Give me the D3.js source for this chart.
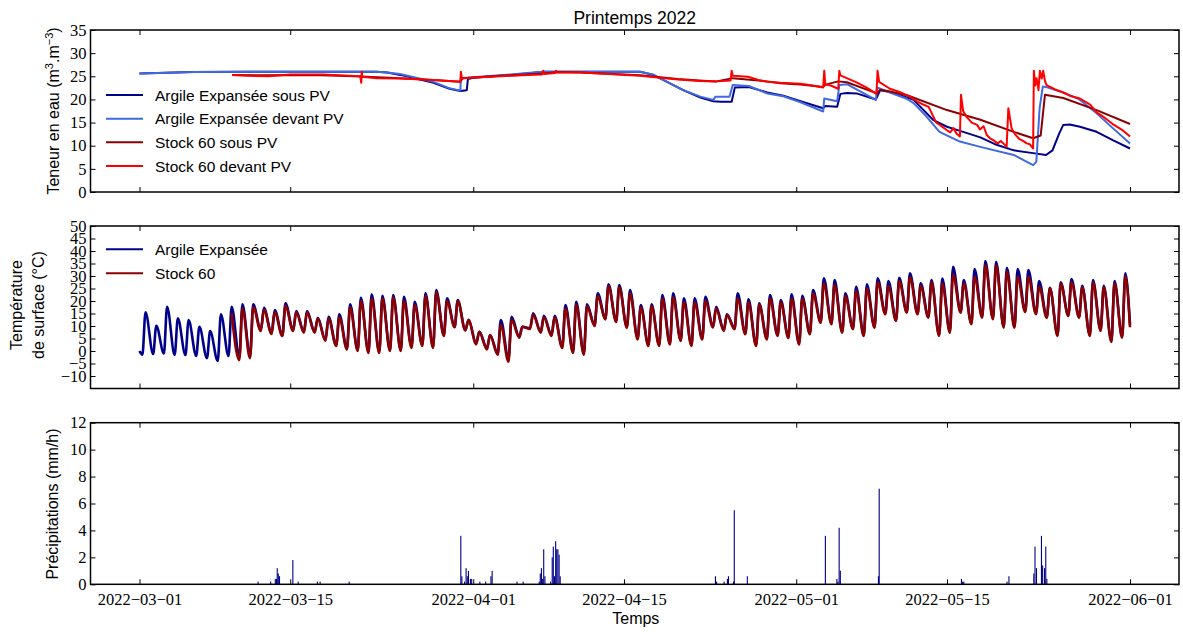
<!DOCTYPE html>
<html><head><meta charset="utf-8">
<script src="https://cdn.jsdelivr.net/npm/d3@7/dist/d3.min.js"></script>
<style>
body{margin:0;background:#fff;}
svg text{font-family:"Liberation Sans",Arial,sans-serif;fill:#000;}
</style></head><body>
<svg id="chart" width="1183" height="633"></svg>
<script>
// ---------------- DATA ----------------
// day offsets are fractional days since 2022-03-01 00:00 UTC
const xTickDates = ["2022-03-01","2022-03-15","2022-04-01","2022-04-15","2022-05-01","2022-05-15","2022-06-01"];
const wcTicks = [0,5,10,15,20,25,30,35];
const tempTicks = [-10,-5,0,5,10,15,20,25,30,35,40,45,50];
const precipTicks = [0,2,4,6,8,10,12];

const wcSeriesNames = ["Argile Expansée sous PV","Argile Expansée devant PV","Stock 60 sous PV","Stock 60 devant PV"];
const tempSeriesNames = ["Argile Expansée","Stock 60"];

// Water content [day, m3.m-3]
const wcArgileSous = [[0,25.6],[5,25.9],[10,26.0],[22,26.0],[23,25.8],[24.2,25.3],[25.5,24.6],[27.3,23.6],[28.8,22.3],[29.8,21.8],[30.4,22.0],[30.5,24.4],[31,24.7],[33.5,25.1],[36,25.6],[37.5,26.0],[46.5,26.0],[47.7,25.3],[49.0,23.8],[50.5,22.0],[52.1,20.4],[53.3,19.6],[54.0,19.5],[55.0,19.5],[55.3,22.6],[56.6,22.7],[58.3,21.5],[59.8,20.8],[61.4,19.6],[63.5,18.1],[63.7,18.6],[64.8,18.4],[65.1,21.2],[65.7,21.4],[66.6,21.3],[68.4,20.0],[68.8,22.0],[69.7,21.6],[71.2,20.5],[71.9,19.9],[73.7,15.6],[75.0,14.1],[76.5,13.0],[78.1,11.8],[79.6,10.2],[81.2,9.0],[83.0,8.4],[84.2,8.0],[84.8,9.0],[85.4,12.5],[85.8,14.5],[86.4,14.6],[87.35,14.1],[88.9,13.0],[90.4,11.2],[92.0,9.4]];
const wcArgileDevant = [[0,25.6],[5,25.9],[10,26.0],[22,26.0],[23,25.8],[24.2,25.5],[25.5,24.8],[27.3,23.8],[28.8,22.4],[29.8,21.9],[29.85,24.6],[31,24.8],[33.5,25.2],[36,25.7],[37.5,26.0],[46.5,26.0],[47.7,25.4],[49.0,23.8],[50.5,22.0],[52.1,20.6],[53.3,19.9],[53.5,20.6],[54.8,20.6],[55.1,23.1],[56.6,22.9],[58.3,21.3],[59.8,20.7],[61.4,19.4],[63.5,17.4],[63.6,20.2],[64.8,19.6],[65.0,23.1],[65.7,23.3],[68.4,19.9],[68.5,22.6],[69.7,21.5],[71.2,20.2],[71.9,19.2],[73.1,16.3],[74.3,13.0],[76.2,10.9],[78.0,9.8],[81.2,8.0],[83.0,5.8],[83.3,6.5],[83.6,18.0],[83.9,22.8],[84.3,22.6],[85.8,21.5],[87.3,20.0],[88.9,17.0],[90.4,13.8],[92.0,10.5]];
const wcStockSous = [[8.6,25.3],[12,25.2],[16,25.3],[20,25.0],[24.2,24.6],[27.3,24.2],[29.8,23.8],[30.0,24.6],[33.5,25.1],[37.5,25.6],[39,25.9],[41,25.8],[46.5,25.2],[50,24.4],[52,24.1],[53.6,23.9],[55.1,24.6],[58.3,23.9],[59.5,23.5],[61.4,23.2],[63.5,22.7],[63.7,23.2],[64.9,23.9],[65.7,23.7],[68.5,21.3],[68.8,22.1],[69.7,21.7],[71.3,20.9],[75.0,17.7],[78.1,15.6],[81.2,13.0],[83.0,11.6],[83.7,12.2],[84.1,21.0],[85.8,20.3],[88.9,17.7],[92.0,14.7]];
const wcStockDevant = [[8.6,25.3],[10,25.1],[12,25.0],[14,25.4],[17,25.4],[20.5,25.0],[20.6,23.6],[20.65,26.0],[20.7,24.9],[22,24.6],[24.2,24.5],[27.3,24.2],[29.8,23.8],[29.85,26.0],[29.95,24.6],[33.5,25.0],[36,25.3],[37.4,25.4],[37.5,26.2],[37.6,25.5],[38.6,25.7],[38.7,26.2],[38.8,25.8],[41,25.8],[46.5,25.1],[50,24.3],[52,24.0],[53.6,23.9],[54.9,24.1],[55.0,26.2],[55.1,25.1],[56.5,24.9],[57.5,24.2],[58.3,23.8],[59.5,23.6],[61.4,23.4],[62.5,23.0],[63.5,22.6],[63.6,26.2],[63.7,23.2],[64.2,23.0],[64.9,22.3],[65.0,26.2],[65.1,25.2],[66.6,23.7],[67.5,22.6],[68.45,21.2],[68.55,26.2],[68.7,23.8],[69.7,22.3],[70.6,21.6],[71.55,20.6],[72.2,19.6],[72.8,18.9],[73.3,18.4],[74.0,15.0],[74.34,14.5],[74.96,13.4],[75.3,12.9],[75.6,13.8],[75.9,12.6],[76.2,12.0],[76.3,21.0],[76.5,17.5],[76.8,16.3],[77.3,15.0],[77.8,14.5],[78.06,13.5],[78.4,14.2],[78.7,12.3],[79.0,11.6],[79.3,11.2],[79.7,10.5],[80.0,11.0],[80.54,9.8],[80.7,18.1],[81.0,13.8],[81.3,12.5],[81.7,11.5],[82.1,11.0],[82.4,10.5],[82.7,10.3],[83.0,9.4],[83.07,26.2],[83.2,23.0],[83.32,24.6],[83.5,22.0],[83.63,26.2],[83.8,24.5],[83.94,26.2],[84.1,24.0],[84.24,23.1],[85.0,22.2],[85.8,21.5],[86.4,20.8],[87.35,20.2],[88.3,18.9],[88.9,17.2],[89.5,16.3],[90.44,14.6],[91.0,13.8],[91.4,13.2],[92.0,12.0]];

// Surface temperature: daily morning minimum and afternoon maximum (°C), index = day since 2022-03-01
const tempArgileMin = [-1.5,-1.2,-1.0,-1.6,-1.6,-2.0,-2.9,-4.0,-2.0,-2.5,-2.0,8.4,7.1,6.4,8.4,7.7,7.7,4.4,2.4,1.1,0.4,-0.3,-0.3,0.4,0.4,1.7,2.4,1.7,6.4,9.7,8.4,3.1,1.1,-0.9,-3.0,5.7,9.1,7.7,6.4,1.7,-0.3,-0.9,10.4,13.0,12.0,9.7,5.1,2.4,2.4,3.1,4.4,2.4,5.1,9.7,8.4,9.1,7.1,2.4,5.1,6.4,5.7,3.1,7.1,11.7,11.1,7.7,9.1,6.4,9.7,15.1,12.4,15.7,15.1,13.7,6.4,7.7,15.7,11.1,13.7,13.1,9.7,9.7,16.0,15.1,13.7,6.4,14.4,13.7,6.4,8.4,4.0,5.7];
const tempArgileMax = [15.5,10.1,17.7,13.1,12.4,9.7,8.0,14.7,17.7,18.7,18.7,17.3,16.4,19.1,16.0,16.0,13.3,13.7,14.7,18.7,21.3,22.7,22.1,22.4,21.7,19.7,23.1,24.4,21.1,20.4,12.4,7.7,6.4,12.4,13.7,9.7,15.1,14.1,14.1,18.4,19.7,18.7,23.1,26.7,26.4,24.4,18.4,18.7,22.4,23.1,21.1,21.1,21.7,17.7,14.7,23.1,20.7,19.1,22.4,20.4,22.7,22.1,24.4,29.1,28.4,23.1,25.7,26.7,29.1,28.0,29.3,31.1,27.1,28.4,29.0,33.7,28.4,32.8,36.0,35.7,33.3,32.8,32.4,28.0,25.3,27.5,28.8,26.1,28.4,26.1,28.0,31.1];
const tempStockMin = [null,null,null,null,null,null,null,null,null,-3.6,-2.9,8.0,6.8,6.0,8.0,7.3,7.3,4.0,2.0,0.6,0.0,-0.8,-0.8,0.0,0.0,1.2,2.0,1.2,6.0,9.5,8.2,2.7,0.6,-1.5,-4.3,5.3,8.8,7.3,6.0,1.2,-0.8,-1.5,10.0,12.6,11.6,9.3,4.6,2.0,2.0,2.6,4.0,2.0,4.6,9.4,8.0,8.7,6.7,2.0,4.6,6.0,5.2,2.6,6.7,11.3,10.7,7.3,8.7,6.0,9.3,14.7,12.0,15.3,14.7,13.3,6.0,7.3,15.3,10.7,13.3,12.7,9.3,9.3,15.6,14.7,13.3,6.0,14.0,13.3,6.0,8.0,3.6,5.3];
const tempStockMax = [null,null,null,null,null,null,null,null,15.0,17.0,17.5,16.5,15.5,18.0,15.5,15.5,13.0,13.0,13.5,17.5,20.0,21.0,21.0,21.5,20.0,18.5,22.0,23.5,20.0,20.0,12.5,7.7,6.4,10.5,12.5,9.7,14.5,13.5,13.5,17.0,18.5,18.0,22.0,26.0,25.5,23.0,17.5,18.0,21.0,21.5,19.5,19.5,20.0,17.0,14.5,21.0,19.5,18.5,21.0,19.5,21.0,21.0,23.0,27.0,26.5,22.0,24.0,25.0,27.5,26.0,28.0,29.5,26.0,27.5,27.0,30.5,27.0,29.7,34.3,34.3,31.7,29.7,29.7,25.7,25.1,27.0,27.5,25.5,27.5,25.5,27.0,30.0];
const tempArgileStart = [0, 0.0];     // [day, °C]
const tempArgileEnd = [92, 10.5];
const tempStockEnd = [92, 9.5];

// Precipitation (mm/h): hour positions (days since 2022-03-01) and values
const precipDays = [11.01,12.18,12.61,12.72,12.79,12.89,13.0,14.24,14.74,16.52,16.77,19.47,29.84,29.94,30.19,30.33,30.44,30.55,30.73,30.85,31.61,32.15,32.64,32.75,35.06,35.63,37.12,37.22,37.33,37.44,37.54,37.65,38.18,38.33,38.43,38.54,38.65,38.75,38.86,38.97,39.07,53.49,53.6,54.3,54.6,54.7,55.17,55.24,56.45,63.7,64.77,64.87,64.98,65.09,68.63,68.7,76.34,76.45,76.56,80.57,80.75,83.06,83.17,83.31,83.77,83.88,84.06,84.17,84.27];
const precipVals = [0.2,0.2,0.4,0.4,1.2,0.8,0.6,1.8,0.2,0.2,0.2,0.2,3.6,0.6,0.2,1.2,0.6,1.0,0.4,0.4,0.2,0.2,0.6,1.0,0.2,0.2,0.2,0.8,1.2,0.4,2.6,0.6,0.2,2.0,2.8,0.6,3.2,2.6,2.6,2.2,0.6,0.6,0.2,0.2,0.4,0.6,0.2,5.5,0.6,3.6,0.4,0.2,4.2,1.0,0.6,7.1,0.4,0.2,0.2,0.2,0.6,0.8,2.8,1.2,3.6,1.4,1.2,2.8,0.4];

// ---------------- DRAWING ----------------
const C_NAVY = "#00008b", C_ROYAL = "#4169e1", C_DARKRED = "#8b0000", C_RED = "#ff0000";
const svg = d3.select("#chart");
const X0 = 90.5, X1 = 1179;
const P = [{top:30,bottom:192},{top:226,bottom:388.5},{top:422.7,bottom:584.3}];
const T0 = Date.UTC(2022,2,1);
const dayDate = d => new Date(T0 + d*864e5);
const x = d3.scaleUtc().domain([dayDate(-4.55), dayDate(96.55)]).range([X0, X1]);
const yW = d3.scaleLinear().domain([0,35]).range([P[0].bottom, P[0].top]);
const yT = d3.scaleLinear().domain([-15,50]).range([P[1].bottom, P[1].top]);
const yP = d3.scaleLinear().domain([0,12]).range([P[2].bottom, P[2].top]);
const ys = [yW, yT, yP];
const yTickSets = [wcTicks, tempTicks, precipTicks];
const xTicks = xTickDates.map(s => new Date(s + "T00:00:00Z"));
const numFmt = v => (v < 0 ? "\u2212" + Math.abs(v) : String(v));
const dateFmt = d => d3.utcFormat("%Y-%m-%d")(d).replace(/-/g, "\u2212");

function styleAxis(g, showLabels){
  g.select(".domain").remove();
  g.selectAll(".tick line").attr("stroke","#000").attr("stroke-width",1);
  g.selectAll(".tick text").style("font-family","'Liberation Serif','DejaVu Serif',serif")
    .style("font-size","16.5px").attr("fill","#222");
  if(!showLabels) g.selectAll(".tick text").remove();
}

P.forEach((p,i) => {
  const y = ys[i];
  const gb = svg.append("g").attr("transform",`translate(0,${p.bottom})`)
    .call(d3.axisBottom(x).tickValues(xTicks).tickSize(-5).tickPadding(9).tickFormat(dateFmt));
  styleAxis(gb, i===2);
  const gt = svg.append("g").attr("transform",`translate(0,${p.top})`)
    .call(d3.axisTop(x).tickValues(xTicks).tickSize(-5));
  styleAxis(gt, false);
  const gl = svg.append("g").attr("transform",`translate(${X0},0)`)
    .call(d3.axisLeft(y).tickValues(yTickSets[i]).tickSize(-5).tickPadding(4).tickFormat(numFmt));
  styleAxis(gl, true);
  const gr = svg.append("g").attr("transform",`translate(${X1},0)`)
    .call(d3.axisRight(y).tickValues(yTickSets[i]).tickSize(-5));
  styleAxis(gr, false);
});

// ---- Panel 1: water content
const lineW = d3.line().x(d => x(dayDate(d[0]))).y(d => yW(d[1]));
[[wcArgileSous,C_NAVY],[wcArgileDevant,C_ROYAL],[wcStockSous,C_DARKRED],[wcStockDevant,C_RED]]
  .forEach(([data,col]) => {
    svg.append("path").datum(data).attr("d", lineW).attr("fill","none")
      .attr("stroke",col).attr("stroke-width",2).attr("stroke-linejoin","round");
  });

// ---- Panel 2: temperature
const TROUGH = 0.27, PEAK = 0.56;
function tempPts(mins, maxs, start, end){
  const pts = [];
  if(start) pts.push(start);
  for(let d=0; d<mins.length; d++){
    if(mins[d] != null) pts.push([d+TROUGH, mins[d]]);
    if(maxs[d] != null) pts.push([d+PEAK, maxs[d]]);
  }
  pts.push(end);
  return pts;
}
const lineT = d3.line().x(d => x(dayDate(d[0]))).y(d => yT(d[1])).curve(d3.curveMonotoneX);
svg.append("path").datum(tempPts(tempArgileMin, tempArgileMax, tempArgileStart, tempArgileEnd))
  .attr("d", lineT).attr("fill","none").attr("stroke",C_NAVY).attr("stroke-width",2.6).attr("stroke-linejoin","round");
svg.append("path").datum(tempPts(tempStockMin, tempStockMax, null, tempStockEnd))
  .attr("d", lineT).attr("fill","none").attr("stroke",C_DARKRED).attr("stroke-width",2.6).attr("stroke-linejoin","round");

// ---- Panel 3: precipitation bars
svg.append("g").selectAll("rect").data(precipDays.map((d,i)=>[d,precipVals[i]])).join("rect")
  .attr("x", d => x(dayDate(d[0])) - 0.5).attr("width", 1.1)
  .attr("y", d => yP(d[1])).attr("height", d => yP(0) - yP(d[1]))
  .attr("fill", C_NAVY);

// ---- Frames
P.forEach(p => {
  svg.append("rect").attr("x",X0).attr("y",p.top).attr("width",X1-X0).attr("height",p.bottom-p.top)
    .attr("fill","none").attr("stroke","#000").attr("stroke-width",1.5);
});

// ---- Legends
function legend(items, colors, rows){
  items.forEach((name,i) => {
    svg.append("line").attr("x1",106).attr("x2",143).attr("y1",rows[i]).attr("y2",rows[i])
      .attr("stroke",colors[i]).attr("stroke-width",2);
    svg.append("text").attr("x",155).attr("y",rows[i]).attr("dy","0.36em")
      .style("font-size","15.5px").text(name);
  });
}
legend(wcSeriesNames, [C_NAVY,C_ROYAL,C_DARKRED,C_RED], [95,118.7,142.3,166]);
legend(tempSeriesNames, [C_NAVY,C_DARKRED], [249.3,273.3]);

// ---- Titles / labels
svg.append("text").attr("x",634.7).attr("y",23.5).attr("text-anchor","middle")
  .style("font-size","17.5px").text("Printemps 2022");
svg.append("text").attr("x",635.8).attr("y",624).attr("text-anchor","middle")
  .style("font-size","16px").text("Temps");

const yl1 = svg.append("text").attr("transform","translate(59,111) rotate(-90)")
  .attr("text-anchor","middle").style("font-size","16px");
yl1.append("tspan").text("Teneur en eau (m");
yl1.append("tspan").attr("baseline-shift","super").style("font-size","11px").text("3");
yl1.append("tspan").text(".m");
yl1.append("tspan").attr("baseline-shift","super").style("font-size","11px").text("\u22123");
yl1.append("tspan").text(")");

svg.append("text").attr("transform","translate(22,305) rotate(-90)").attr("text-anchor","middle")
  .style("font-size","16px").text("Température");
svg.append("text").attr("transform","translate(44,305) rotate(-90)").attr("text-anchor","middle")
  .style("font-size","16px").text("de surface (°C)");
svg.append("text").attr("transform","translate(58,504) rotate(-90)").attr("text-anchor","middle")
  .style("font-size","16px").text("Précipitations (mm/h)");
</script></body></html>
